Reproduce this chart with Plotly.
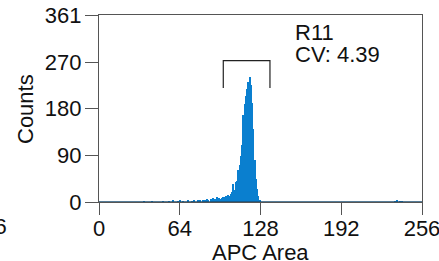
import plotly.graph_objects as go

# Histogram data (bin start -> counts), bins of width 1 on 0..256
bins = [35, 42, 50, 55, 58, 62, 64, 66, 70, 73, 75, 78, 80, 82, 84, 85, 86, 88, 89, 90,
        91, 92, 93, 94, 95, 96, 97, 98, 99, 100, 101, 102, 103, 104, 105, 106, 107, 108,
        109, 110, 111, 112, 113, 114, 115, 116, 117, 118, 119, 120, 121, 122, 123, 124,
        125, 126, 127, 234, 236, 238, 240]
counts = [1, 1, 1, 1, 2, 1, 3, 1, 2, 1, 2, 3, 2, 4, 3, 5, 4, 6, 4, 7,
          5, 6, 9, 5, 8, 6, 7, 10, 9, 12, 10, 14, 12, 16, 20, 34, 24, 38,
          40, 62, 72, 88, 110, 168, 190, 205, 218, 232, 241, 226, 192, 140, 82, 45,
          26, 12, 4, 1, 2, 1, 1]

x_ticks = [0, 64, 128, 192, 256]
y_ticks = [0, 90, 180, 270, 361]
region_name = "R11"
region_cv = 4.39
region_range = [98.5, 135.5]
region_y = [220, 273]

FONT = "Liberation Sans, Arial, sans-serif"
FS = 22
PW, PH = 323, 187   # plot area size in px
L, T = 99, 15


def px_to_paper_x(px):
    return (px - L) / PW


def px_to_paper_y(py):
    return (T + PH - py) / PH


fig = go.Figure()
fig.add_trace(go.Bar(
    x=[b + 0.5 for b in bins], y=counts, width=1.0,
    marker=dict(color="#0a7fcf", line=dict(width=0)),
    showlegend=False, hoverinfo="skip"))

# region bracket
fig.add_shape(type="path",
              path=f"M {region_range[0]},{region_y[0]} L {region_range[0]},{region_y[1]} "
                   f"L {region_range[1]},{region_y[1]} L {region_range[1]},{region_y[0]}",
              line=dict(color="#222", width=1.2), xref="x", yref="y")

# region label lines
for txt, py in [(region_name, 32), (f"CV: {region_cv:.2f}", 55)]:
    fig.add_annotation(x=px_to_paper_x(293), y=px_to_paper_y(py), xref="paper", yref="paper",
                       text=txt, showarrow=False, xanchor="left", yanchor="middle",
                       align="left", font=dict(family=FONT, size=FS, color="#111"))

# axis titles
fig.add_annotation(x=0.5, y=px_to_paper_y(252), xref="paper", yref="paper",
                   text="APC Area", showarrow=False, xanchor="center", yanchor="middle",
                   font=dict(family=FONT, size=FS, color="#111"))
fig.add_annotation(x=px_to_paper_x(25), y=px_to_paper_y(109), xref="paper", yref="paper",
                   text="Counts", showarrow=False, xanchor="center", yanchor="middle",
                   textangle=-90, font=dict(family=FONT, size=FS, color="#111"))

# clipped tick label from the neighbouring panel at the left edge
fig.add_annotation(x=px_to_paper_x(9), y=px_to_paper_y(226), xref="paper", yref="paper",
                   text="256", showarrow=False, xanchor="right", yanchor="middle",
                   font=dict(family=FONT, size=FS, color="#111"))

fig.update_layout(
    width=439, height=261,
    margin=dict(l=L, r=439 - L - PW, t=T, b=261 - T - PH, autoexpand=False),
    paper_bgcolor="white", plot_bgcolor="white",
    bargap=0,
    font=dict(family=FONT, size=FS, color="#111"),
    xaxis=dict(range=[0, 256], tickvals=x_ticks, ticktext=[str(v) for v in x_ticks],
               showgrid=False, zeroline=False, showline=True, linecolor="#555",
               linewidth=1.2, mirror=True, ticks="outside", ticklen=12, tickcolor="#555",
               tickwidth=1.2, tickfont=dict(size=FS), automargin=False,
               ticklabeloverflow="allow", ticklabelstandoff=-6),
    yaxis=dict(range=[0, 361], tickvals=y_ticks, ticktext=[str(v) for v in y_ticks],
               showgrid=False, zeroline=False, showline=True, linecolor="#555",
               linewidth=1.2, mirror=True, ticks="outside", ticklen=13, tickcolor="#555",
               tickwidth=1.2, tickfont=dict(size=FS), automargin=False,
               ticklabelstandoff=-1),
)
# dark baseline at zero
fig.add_shape(type="line", x0=0, x1=256, y0=0, y1=0, xref="x", yref="y",
              line=dict(color="#1d4f73", width=1.5))

fig.write_html("out.html", config={"displayModeBar": False},
               post_script="document.body.style.margin='0';")
